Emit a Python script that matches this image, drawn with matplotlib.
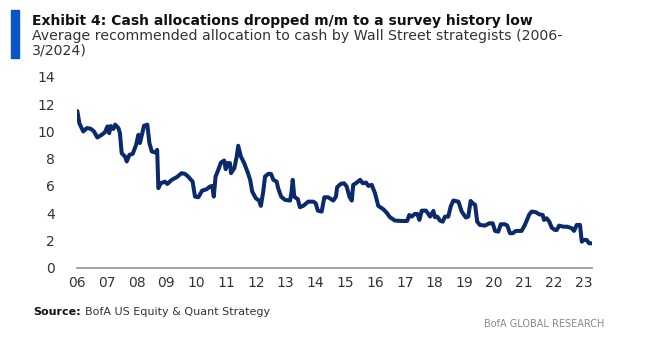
import matplotlib.pyplot as plt
from matplotlib.patches import Rectangle

plt.rcParams['font.family'] = ['DejaVu Sans']

# years since Jan 2006 and average recommended cash allocation (%)
years = [
    0.01, 0.08, 0.21, 0.33, 0.46, 0.57, 0.68, 0.83, 0.94, 1.02, 1.08, 1.13,
    1.22, 1.28, 1.39, 1.44, 1.50, 1.61, 1.67, 1.76, 1.87, 1.98, 2.06, 2.11,
    2.17, 2.25, 2.36, 2.43, 2.51, 2.62, 2.69, 2.73, 2.81, 2.95, 3.03, 3.18,
    3.35, 3.51, 3.62, 3.73, 3.88, 3.96, 4.07, 4.20, 4.35, 4.46, 4.54, 4.59,
    4.65, 4.74, 4.83, 4.94, 4.99, 5.06, 5.13, 5.17, 5.28, 5.36, 5.41, 5.50,
    5.61, 5.73, 5.81, 5.88, 6.00, 6.11, 6.17, 6.25, 6.31, 6.42, 6.51, 6.59,
    6.70, 6.75, 6.85, 6.98, 7.15, 7.20, 7.24, 7.29, 7.41, 7.48, 7.59, 7.76,
    7.93, 8.01, 8.08, 8.21, 8.30, 8.43, 8.60, 8.69, 8.73, 8.85, 8.96, 9.05,
    9.14, 9.22, 9.27, 9.39, 9.50, 9.59, 9.70, 9.78, 9.89, 10.00, 10.11, 10.28,
    10.39, 10.50, 10.67, 10.90, 11.08, 11.15, 11.23, 11.34, 11.42, 11.49,
    11.57, 11.71, 11.79, 11.85, 11.96, 12.01, 12.09, 12.18, 12.27, 12.35,
    12.46, 12.54, 12.63, 12.80, 12.91, 13.05, 13.13, 13.21, 13.28, 13.36,
    13.43, 13.52, 13.69, 13.84, 13.95, 14.03, 14.14, 14.22, 14.36, 14.44,
    14.53, 14.62, 14.73, 14.92, 15.03, 15.18, 15.26, 15.40, 15.51, 15.63,
    15.67, 15.76, 15.85, 15.93, 16.04, 16.10, 16.18, 16.32, 16.45, 16.60,
    16.68, 16.77, 16.88, 16.94, 17.01, 17.10, 17.19, 17.27,
]
cash = [
    11.5, 10.6, 10.0, 10.25, 10.2, 10.0, 9.56, 9.76, 9.95, 10.37, 9.88, 10.4,
    10.18, 10.5, 10.25, 9.88, 8.41, 8.16, 7.8, 8.29, 8.36, 9.0, 9.76, 9.15,
    9.68, 10.42, 10.5, 9.15, 8.53, 8.46, 8.65, 5.84, 6.2, 6.32, 6.15, 6.45,
    6.65, 6.94, 6.89, 6.69, 6.32, 5.22, 5.17, 5.66, 5.76, 5.96, 6.0, 5.22,
    6.69, 7.18, 7.72, 7.87, 7.23, 7.68, 7.68, 6.94, 7.31, 8.16, 8.95, 8.16,
    7.68, 6.99, 6.45, 5.59, 5.1, 4.93, 4.54, 5.59, 6.69, 6.89, 6.89, 6.45,
    6.32, 5.84, 5.22, 4.98, 4.93, 5.59, 6.45, 5.22, 5.03, 4.44, 4.54, 4.85,
    4.85, 4.73, 4.19, 4.12, 5.17, 5.17, 4.93, 5.22, 5.91, 6.15, 6.2, 5.96,
    5.22, 4.93, 6.08, 6.25, 6.45, 6.2, 6.25, 6.0, 6.08, 5.47, 4.54, 4.29,
    4.04, 3.71, 3.46, 3.43, 3.43, 3.87, 3.75, 3.95, 3.95, 3.51,
    4.19, 4.19, 3.95, 3.75, 4.17, 3.71, 3.75, 3.46, 3.38, 3.75,
    3.75, 4.49, 4.93, 4.85, 4.12, 3.68, 3.75, 4.9, 4.73, 4.61,
    3.38, 3.14, 3.09, 3.26, 3.26, 2.7, 2.65, 3.19, 3.19, 3.09,
    2.53, 2.53, 2.7, 2.7, 3.14, 3.92, 4.12, 4.07, 3.92, 3.87,
    3.51, 3.63, 3.38, 2.94, 2.77, 2.77, 3.09, 3.01, 3.01, 2.9,
    2.7, 3.14, 3.14, 1.91, 2.04, 2.04, 1.79, 1.79,
]
tick_years = list(range(18))
tick_labels = [f'{y:02d}' for y in range(6, 24)]
y_ticks = [0, 2, 4, 6, 8, 10, 12, 14]

navy = '#0b2a6b'
text_col = '#333333'

fig = plt.figure(figsize=(6.61, 3.39), dpi=100)
ax = fig.add_axes([0.1165, 0.2103, 0.779, 0.5626])

ax.plot(years, cash, color=navy, lw=2.9, solid_joinstyle='round',
        solid_capstyle='round')

ax.set_xlim(0, 17.28)
ax.set_ylim(0, 14)
ax.set_xticks(tick_years)
ax.set_xticklabels(tick_labels)
ax.set_yticks(y_ticks)
ax.tick_params(axis='both', length=0, labelsize=10, colors=text_col)
ax.tick_params(axis='y', pad=16)
ax.tick_params(axis='x', pad=6)
for s in ['top', 'right', 'left']:
    ax.spines[s].set_visible(False)
ax.spines['bottom'].set_color('#9a9a9a')
ax.spines['bottom'].set_linewidth(1.3)

# header
fig.patches.append(Rectangle((11 / 661, 1 - 58 / 339), 8 / 661, 48 / 339,
                             transform=fig.transFigure, color='#0a54c8'))
fig.text(32 / 661, 1 - 25 / 339, 'Exhibit 4: Cash allocations dropped m/m to a survey history low',
         fontsize=10, fontweight='bold', color='#111111', va='baseline')
fig.text(32 / 661, 1 - 40 / 339,
         'Average recommended allocation to cash by Wall Street strategists (2006-',
         fontsize=10.2, color=text_col, va='baseline')
fig.text(32 / 661, 1 - 55 / 339, '3/2024)', fontsize=10.2, color=text_col,
         va='baseline')

# footer: bold "Source:" then the rest right after it
src = fig.text(33 / 661, 1 - 315 / 339, 'Source:', fontsize=8, fontweight='bold',
               color='#111111', va='baseline')
bb = src.get_window_extent(fig.canvas.get_renderer())
fig.text((bb.x1 + 4) / 661, 1 - 315 / 339, 'BofA US Equity & Quant Strategy',
         fontsize=8, color=text_col, va='baseline')
fig.text(604 / 661, 1 - 327 / 339, 'BofA GLOBAL RESEARCH', fontsize=7,
         color='#8a8a8a', ha='right', va='baseline')

fig.savefig('out.png', dpi=100)
